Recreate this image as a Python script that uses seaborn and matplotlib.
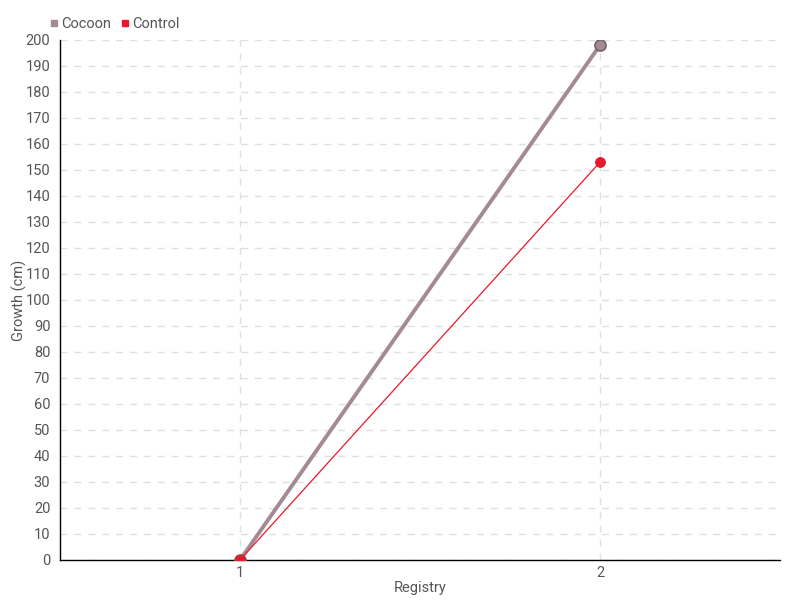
import pandas as pd
import matplotlib.pyplot as plt
import seaborn as sns
from matplotlib.lines import Line2D

# Data
registry = [1, 2]
cocoon = [0, 198]
control = [0, 153]

df = pd.DataFrame({
    "Registry": registry * 2,
    "Growth": cocoon + control,
    "Series": ["Cocoon"] * 2 + ["Control"] * 2,
})

sns.set_style("white")
plt.rcParams['font.family'] = ['Roboto', 'DejaVu Sans']
text_color = "#555555"

fig = plt.figure(figsize=(8, 6), dpi=100)
ax = fig.add_axes([0.075, 0.0667, 0.9, 0.8667])

cocoon_color = "#a48a92"
control_color = "#e8192c"

sns.lineplot(data=df[df.Series == "Cocoon"], x="Registry", y="Growth",
             color=cocoon_color, linewidth=2.8, marker="o", markersize=8,
             markeredgecolor="#7a6269", markeredgewidth=1.2, ax=ax, zorder=3)
sns.lineplot(data=df[df.Series == "Control"], x="Registry", y="Growth",
             color=control_color, linewidth=0.9, marker="o", markersize=7,
             markeredgecolor=control_color, ax=ax, zorder=4)

ax.set_xlim(0.5, 2.5)
ax.set_ylim(0, 200)
ax.set_xticks(registry)
ax.set_yticks(range(0, 201, 10))
ax.grid(True, linestyle=(0, (5, 5)), color="#e0e0e0", linewidth=1)
ax.set_axisbelow(True)

for s in ["top", "right"]:
    ax.spines[s].set_visible(False)
for s in ["left", "bottom"]:
    ax.spines[s].set_color("black")
    ax.spines[s].set_linewidth(1)

ax.tick_params(axis="y", length=5, width=1, color="black", labelsize=10.5,
               labelcolor=text_color, direction="out", pad=2)
ax.tick_params(axis="x", length=10, width=1, color="black", labelsize=10.5,
               labelcolor=text_color, direction="inout", pad=-1)
ax.set_xlabel("Registry", fontsize=10.5, color=text_color, labelpad=1)
ax.set_ylabel("Growth (cm)", fontsize=10.5, color=text_color)
ax.yaxis.set_label_coords(-0.046, 0.5)

handles = [
    Line2D([], [], marker="s", linestyle="none", color=cocoon_color, markersize=5),
    Line2D([], [], marker="s", linestyle="none", color=control_color, markersize=5),
]
fig.legend(handles, ["Cocoon", "Control"], loc="upper left", bbox_to_anchor=(0.055, 0.982),
           ncol=2, frameon=False, fontsize=10.5, handlelength=0.6, handletextpad=0.2,
           columnspacing=0.6, labelcolor=text_color, borderaxespad=0)

fig.savefig("out.png", dpi=100)
